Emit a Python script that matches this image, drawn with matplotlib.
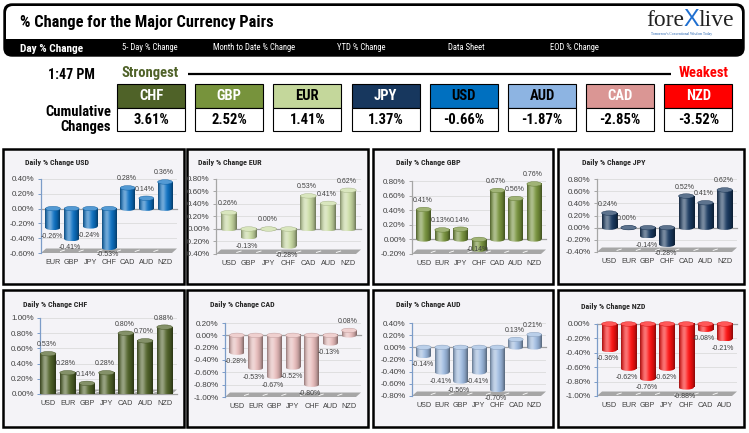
import numpy as np
import matplotlib
matplotlib.use("Agg")
import matplotlib.pyplot as plt
import matplotlib.colors as mcolors
from matplotlib import font_manager
from matplotlib.patches import Rectangle, FancyBboxPatch, Ellipse, Polygon
from matplotlib.ticker import FuncFormatter

W, H = 749, 433

# === data ===
strength_order = ["CHF", "GBP", "EUR", "JPY", "USD", "AUD", "CAD", "NZD"]
cumulative = [3.61, 2.52, 1.41, 1.37, -0.66, -1.87, -2.85, -3.52]

usd_pairs = ["EUR", "GBP", "JPY", "CHF", "CAD", "AUD", "NZD"]
usd_vals = [-0.26, -0.41, -0.24, -0.53, 0.28, 0.14, 0.36]
eur_pairs = ["USD", "GBP", "JPY", "CHF", "CAD", "AUD", "NZD"]
eur_vals = [0.26, -0.13, 0.00, -0.28, 0.53, 0.41, 0.62]
gbp_pairs = ["USD", "EUR", "JPY", "CHF", "CAD", "AUD", "NZD"]
gbp_vals = [0.41, 0.13, 0.14, -0.14, 0.67, 0.56, 0.76]
jpy_pairs = ["USD", "EUR", "GBP", "CHF", "CAD", "AUD", "NZD"]
jpy_vals = [0.24, 0.00, -0.14, -0.28, 0.52, 0.41, 0.62]
chf_pairs = ["USD", "EUR", "GBP", "JPY", "CAD", "AUD", "NZD"]
chf_vals = [0.53, 0.28, 0.14, 0.28, 0.80, 0.70, 0.88]
cad_pairs = ["USD", "EUR", "GBP", "JPY", "CHF", "AUD", "NZD"]
cad_vals = [-0.28, -0.53, -0.67, -0.52, -0.80, -0.13, 0.08]
aud_pairs = ["USD", "EUR", "GBP", "JPY", "CHF", "CAD", "NZD"]
aud_vals = [-0.14, -0.41, -0.56, -0.41, -0.70, 0.13, 0.21]
nzd_pairs = ["USD", "EUR", "GBP", "JPY", "CHF", "CAD", "AUD"]
nzd_vals = [-0.36, -0.62, -0.76, -0.62, -0.88, -0.08, -0.21]

nav_labels = ["Day % Change", "5- Day % Change", "Month to Date % Change",
              "YTD % Change", "Data Sheet", "EOD % Change"]

# colours
box_colors = {"CHF": "#4F6228", "GBP": "#77933C", "EUR": "#C4D79B", "JPY": "#17375E",
              "USD": "#0070C0", "AUD": "#8DB4E2", "CAD": "#DA9694", "NZD": "#FF0000"}
box_text = {"CHF": "white", "GBP": "white", "EUR": "black", "JPY": "white",
            "USD": "black", "AUD": "black", "CAD": "white", "NZD": "white"}
bar_colors = {"USD": "#0A6FC2", "EUR": "#C9DBA2", "GBP": "#77933C", "JPY": "#17375E",
              "CHF": "#4F6228", "CAD": "#E8BCBB", "AUD": "#9DBAE0", "NZD": "#FF1010"}

# fonts
avail = {f.name for f in font_manager.fontManager.ttflist}
NARROW = next((f for f in ["Liberation Sans Narrow", "Roboto Condensed", "Open Sans Condensed",
                           "DejaVu Sans Condensed"] if f in avail), "DejaVu Sans")
SANS = "Liberation Sans" if "Liberation Sans" in avail else "DejaVu Sans"
SERIF = "Liberation Serif" if "Liberation Serif" in avail else "DejaVu Serif"

fig = plt.figure(figsize=(W / 100, H / 100), dpi=100)
bg = fig.add_axes([0, 0, 1, 1])
bg.set_xlim(0, W)
bg.set_ylim(H, 0)
bg.axis("off")

# === header ===
bg.add_patch(FancyBboxPatch((4, 4), 740, 52, boxstyle="round,pad=0,rounding_size=8",
                            fc="black", ec="black", lw=1))
bg.add_patch(FancyBboxPatch((6, 6), 736, 40, boxstyle="round,pad=0,rounding_size=7",
                            fc="white", ec="none"))
bg.add_patch(Rectangle((6, 39), 736, 10, fc="black", ec="none"))
bg.text(20, 23, "% Change for the Major Currency Pairs", family=NARROW, fontweight="bold",
        fontsize=11.8, va="center", ha="left")

nav_x = [20, 122, 213, 337, 448, 550]
for i, (lab, x) in enumerate(zip(nav_labels, nav_x)):
    if i == 0:
        bg.text(x, 48.5, lab, color="white", family=NARROW, fontweight="bold", fontsize=8.2,
                va="center")
    else:
        bg.text(x, 47.5, lab, color="white", family=NARROW, fontsize=6.2, va="center")

# logo
bg.text(684, 20, "fore", family=SERIF, fontsize=17, ha="right", va="center", color="#222222")
bg.text(691, 20, "X", family=SANS, fontsize=17, ha="center", va="center", color="#1F6FD0")
bg.text(698, 20, "live", family=SERIF, fontsize=17, ha="left", va="center", color="#222222")
bg.text(682, 34, "Tomorrow's Conventional Wisdom Today", family=SERIF, fontsize=2.6,
        ha="center", va="center", color="#1F5FAF")

# === strength row ===
bg.text(71, 75, "1:47 PM", family=NARROW, fontweight="bold", fontsize=10, ha="center", va="center")
bg.text(150, 73, "Strongest", family=NARROW, fontweight="bold", fontsize=10.5, ha="center",
        va="center", color="#4F6228")
bg.text(704, 73, "Weakest", family=NARROW, fontweight="bold", fontsize=10.5, ha="center",
        va="center", color="#FF0000")
bg.plot([188, 671], [74, 74], color="black", lw=1.6, solid_capstyle="butt")
bg.text(111, 112, "Cumulative", family=NARROW, fontweight="bold", fontsize=10.5, ha="right", va="center")
bg.text(111, 127, "Changes", family=NARROW, fontweight="bold", fontsize=10.5, ha="right", va="center")

for i, (ccy, val) in enumerate(zip(strength_order, cumulative)):
    cx = 151 + 78.2 * i
    bg.add_patch(Rectangle((cx - 34, 84), 68, 24, fc=box_colors[ccy], ec="black", lw=0.8))
    bg.add_patch(Rectangle((cx - 34, 108), 68, 23, fc="white", ec="black", lw=0.8))
    bg.text(cx, 96, ccy, family=NARROW, fontweight="bold", fontsize=10.5, ha="center", va="center",
            color=box_text[ccy])
    bg.text(cx, 120, f"{val:.2f}%", family=NARROW, fontweight="bold", fontsize=10.5,
            ha="center", va="center", color="black")

# === daily charts ===
charts = [("USD", usd_pairs, usd_vals), ("EUR", eur_pairs, eur_vals),
          ("GBP", gbp_pairs, gbp_vals), ("JPY", jpy_pairs, jpy_vals),
          ("CHF", chf_pairs, chf_vals), ("CAD", cad_pairs, cad_vals),
          ("AUD", aud_pairs, aud_vals), ("NZD", nzd_pairs, nzd_vals)]
panel_boxes = [(3, 149, 184, 284), (187, 149, 368, 284), (373, 149, 553, 284), (558, 149, 744, 284),
               (3, 290, 184, 427), (187, 290, 368, 427), (373, 290, 553, 427), (558, 290, 744, 427)]
plot_left = [38, 29, 39, 39, 37, 38, 39, 39]
plot_tb = [(30, 104), (30, 105), (32, 105), (30, 103), (28, 104), (33, 107), (33, 106), (34, 106)]
title_pos = [(22, 13), (11, 13), (23, 14), (24, 13), (20, 14), (23, 15), (23, 14), (23, 16)]
ylims = [(-0.6, 0.4), (-0.4, 0.8), (-0.2, 0.8), (-0.4, 0.8), (0.0, 1.0), (-1.0, 0.2),
         (-0.8, 0.4), (-1.0, 0.0)]
blue_axis = [True, False, False, False, True, True, True, True]
x_left = [-0.64, -0.64, -0.64, -0.64, -0.42, -0.64, -0.64, -0.64]


def shade_row(color, n=48):
    base = np.array(mcolors.to_rgb(color))
    t = np.linspace(0, 1, n)
    hi = np.exp(-((t - 0.32) / 0.22) ** 2)
    dark = 0.58 + 0.42 * np.sin(np.pi * np.clip(t * 1.05, 0, 1)) ** 0.6
    rgb = base[None, :] * dark[:, None]
    rgb = rgb + (1 - rgb) * (0.42 * hi[:, None])
    return np.clip(rgb, 0, 1)[None, :, :]


def cylinder(ax, x, v, color, w, eh):
    row = shade_row(color)
    lo, hi = min(v, 0), max(v, 0)
    if hi > lo:
        ax.imshow(row, extent=[x - w / 2, x + w / 2, lo, hi], aspect="auto",
                  interpolation="bilinear", zorder=3, clip_on=False)
    bottom = Ellipse((x, lo), w, eh, fc="none", ec="none")
    ax.add_patch(bottom)
    im = ax.imshow(row, extent=[x - w / 2, x + w / 2, lo - eh / 2, lo + eh / 2], aspect="auto",
                   interpolation="bilinear", zorder=2.9, clip_on=True)
    im.set_clip_path(bottom)
    base = np.array(mcolors.to_rgb(color))
    cap = base + (1 - base) * 0.3
    ax.add_patch(Ellipse((x, hi), w, eh, fc=cap, ec=base * 0.8, lw=0.3, zorder=4, clip_on=False))


for k, (ccy, pairs, vals) in enumerate(charts):
    l, t, r, b = panel_boxes[k]
    panel = Rectangle((l, t), r - l, b - t, fc="#F4F3F7", ec="black", lw=1.8)
    bg.add_patch(panel)
    bg.text(l + title_pos[k][0], t + title_pos[k][1], f"Daily % Change {ccy}", family=NARROW,
            fontweight="bold", fontsize=5.8, va="center", color="#262626")

    at, ab = t + plot_tb[k][0], t + plot_tb[k][1]
    al, ar = l + plot_left[k], r - 7
    ax = fig.add_axes([al / W, 1 - ab / H, (ar - al) / W, (ab - at) / H])
    ax.patch.set_alpha(0)
    ymin, ymax = ylims[k]
    ax.set_xlim(x_left[k], 6.64)
    ax.set_ylim(ymin, ymax)
    upp = (ymax - ymin) / (ab - at)
    xpp = (6.64 - x_left[k]) / (ar - al)

    ticks = np.round(np.arange(ymin, ymax + 0.001, 0.2), 2)
    ax.set_yticks(ticks)
    ax.yaxis.set_major_formatter(FuncFormatter(lambda v, _: f"{abs(v) if abs(v) < 1e-9 else v:.2f}%"))
    ax.set_xticks(range(len(pairs)))
    ax.set_xticklabels(pairs)
    axis_col = "#7C9CC8" if blue_axis[k] else "#A6A6A6"
    for s in ["top", "right", "bottom"]:
        ax.spines[s].set_visible(False)
    ax.spines["left"].set_color(axis_col)
    ax.spines["left"].set_linewidth(0.9)
    ax.tick_params(axis="y", length=2.5, width=0.7, color=axis_col, pad=2,
                   labelsize=5.8, labelcolor="#404040")
    ax.tick_params(axis="x", length=0, pad=4.5, labelsize=5.2, labelcolor="#404040")
    for lab in ax.get_yticklabels() + ax.get_xticklabels():
        lab.set_family(SANS)
    for tk in ax.yaxis.get_major_ticks(len(ticks)):
        tk.label1.set_clip_path(panel)

    # back wall gridlines and zero line
    for tv in ticks:
        if tv != ymin:
            ax.axhline(tv, color="#DCDCDC", lw=0.6, zorder=1)
    ax.axhline(0, color="#A0A0A0", lw=0.9, zorder=1.5, clip_on=False)

    # floor
    dy = 4.5 * upp
    dx = 5 * xpp
    x0, x1 = x_left[k], 6.64
    ax.add_patch(Polygon([(x0, ymin), (x1 - dx, ymin), (x1, ymin + dy), (x0 + dx, ymin + dy)],
                         closed=True, fc="#A6A6A6", ec="none", zorder=1.2))
    for bnd in np.arange(0.5, 6.0, 1.0):
        ax.plot([bnd - 0.1, bnd + 0.12], [ymin + dy * 0.35, ymin + dy * 0.65],
                color="white", lw=0.6, zorder=1.3)

    eh = 4.5 * upp
    for i, v in enumerate(vals):
        cylinder(ax, i, v, bar_colors[ccy], 0.8, eh)
        if v >= 0:
            off = 6.5
        else:
            gap_px = (v - ymin) / upp
            off = 0 if gap_px < 5 else -min(6.5, (gap_px + 2) * 0.72)
        ax.annotate(f"{v:.2f}%", (i, v), xytext=(-1, off), textcoords="offset points",
                    ha="center", va="center", fontsize=5.0, color="#404040", family=SANS,
                    zorder=6, annotation_clip=False)

    ax.set_xlim(x_left[k], 6.64)
    ax.set_ylim(ymin, ymax)

fig.savefig("out.png", dpi=100)
